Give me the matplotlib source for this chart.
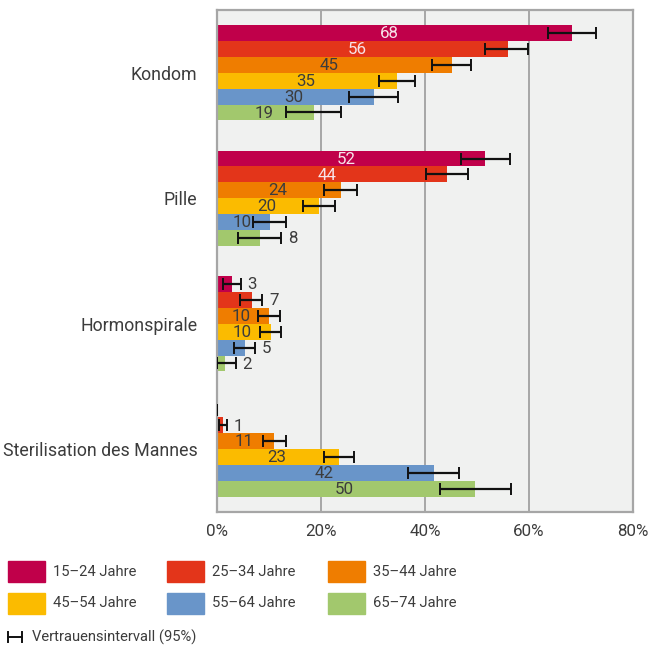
import matplotlib
matplotlib.use("Agg")
import matplotlib.pyplot as plt
from matplotlib.patches import Rectangle
from matplotlib.lines import Line2D
import numpy as np

plt.rcParams['font.family'] = ['Roboto', 'DejaVu Sans']
plt.rcParams['font.weight'] = 'normal'

categories = ["Kondom", "Pille", "Hormonspirale", "Sterilisation des Mannes"]
age_groups = ["15–24 Jahre", "25–34 Jahre", "35–44 Jahre",
              "45–54 Jahre", "55–64 Jahre", "65–74 Jahre"]
colors = ["#c0004a", "#e3351a", "#ef7d00", "#fbbb00", "#6995c9", "#a2c86d"]

# values per age group, for [Kondom, Pille, Hormonspirale, Sterilisation]
values = {
    "15–24 Jahre": [68.3, 51.6, 2.9, 0.0],
    "25–34 Jahre": [55.9, 44.2, 6.7, 1.15],
    "35–44 Jahre": [45.1, 23.8, 10.0, 10.9],
    "45–54 Jahre": [34.6, 19.6, 10.4, 23.4],
    "55–64 Jahre": [30.1, 10.2, 5.4, 41.7],
    "65–74 Jahre": [18.6, 8.3, 1.5, 49.7],
}
labels = {
    "15–24 Jahre": ["68", "52", "3", ""],
    "25–34 Jahre": ["56", "44", "7", "1"],
    "35–44 Jahre": ["45", "24", "10", "11"],
    "45–54 Jahre": ["35", "20", "10", "23"],
    "55–64 Jahre": ["30", "10", "5", "42"],
    "65–74 Jahre": ["19", "8", "2", "50"],
}
ci_low = {
    "15–24 Jahre": [63.7, 46.9, 1.15, 0.0],
    "25–34 Jahre": [51.6, 40.1, 4.5, 0.4],
    "35–44 Jahre": [41.3, 20.5, 7.8, 8.8],
    "45–54 Jahre": [31.2, 16.5, 8.3, 20.5],
    "55–64 Jahre": [25.4, 7.0, 3.2, 36.7],
    "65–74 Jahre": [13.3, 4.0, 0.0, 42.8],
}
ci_high = {
    "15–24 Jahre": [72.8, 56.4, 4.6, 0.0],
    "25–34 Jahre": [59.9, 48.2, 8.7, 1.9],
    "35–44 Jahre": [48.8, 26.9, 12.1, 13.3],
    "45–54 Jahre": [38.1, 22.7, 12.35, 26.4],
    "55–64 Jahre": [34.8, 13.3, 7.4, 46.5],
    "65–74 Jahre": [23.9, 12.3, 3.6, 56.6],
}
xticks = [0, 20, 40, 60, 80]
xticklabels = ["0%", "20%", "40%", "60%", "80%"]

W, H = 651, 646
fig = plt.figure(figsize=(W / 100, H / 100), dpi=100)
ax = fig.add_axes([217 / W, 1 - 512 / H, (633 - 217) / W, (512 - 10) / H])
ax.set_facecolor("#f0f1f0")

text_color = "#3c3c3c"
n = len(age_groups)
bar_h = 0.76 / n
y0 = np.arange(len(categories))

for i, ag in enumerate(age_groups):
    ys = y0 - 0.38 + bar_h * (i + 0.5)
    vals = np.array(values[ag])
    lo = np.array(ci_low[ag])
    hi = np.array(ci_high[ag])
    ax.barh(ys, vals, height=bar_h, color=colors[i], zorder=2)
    mid = (lo + hi) / 2
    ax.errorbar(mid, ys, xerr=(hi - lo) / 2, fmt='none', ecolor='#111111',
                elinewidth=1.6, capsize=4.2, capthick=1.4, zorder=3)
    for j, (v, lab) in enumerate(zip(vals, labels[ag])):
        if not lab:
            continue
        if v >= 9.5:
            x = v / 2 - (1.0 if v > 40 and j < 2 else 0.3)
            col = "#f7e3e9" if i < 2 else text_color
        else:
            x = hi[j] + 2.2
            col = text_color
        ax.text(x, ys[j] + 0.005, lab, ha='center', va='center', fontsize=12.2,
                color=col, zorder=4)

ax.set_xlim(0, 80)
ax.set_ylim(3.5, -0.5)
ax.set_yticks(y0)
ax.set_yticklabels(categories, fontsize=12.8, color=text_color)
ax.set_xticks(xticks)
ax.set_xticklabels(xticklabels, fontsize=12.2, color=text_color)
ax.tick_params(axis='both', length=0)
ax.tick_params(axis='y', pad=14)
ax.tick_params(axis='x', pad=9)
ax.xaxis.grid(True, color="#a6a6a6", linewidth=1.4, zorder=1)
ax.set_axisbelow(True)
for s in ax.spines.values():
    s.set_color("#a6a6a6")
    s.set_linewidth(1.6)

# legend (manual)
col_x = [8, 167, 328]
row_y = [571.5, 603]
for k, ag in enumerate(age_groups):
    r, c = divmod(k, 3)
    x = col_x[c]
    y = row_y[r]
    fig.patches.append(Rectangle((x / W, 1 - (y + 10.5) / H), 37 / W, 21 / H,
                                 transform=fig.transFigure, color=colors[k]))
    fig.text((x + 45) / W, 1 - y / H, ag, ha='left', va='center',
             fontsize=10.6, color=text_color)

yy = 1 - 637 / H
fig.lines.append(Line2D([8 / W, 22 / W], [yy, yy], transform=fig.transFigure,
                        color='#111111', linewidth=1.4))
for xx in (8, 22):
    fig.lines.append(Line2D([xx / W, xx / W], [yy - 5 / H, yy + 5 / H],
                            transform=fig.transFigure, color='#111111', linewidth=1.4))
fig.text(32 / W, yy, "Vertrauensintervall (95%)", ha='left', va='center',
         fontsize=10.6, color=text_color)

fig.savefig("out.png", dpi=100)
